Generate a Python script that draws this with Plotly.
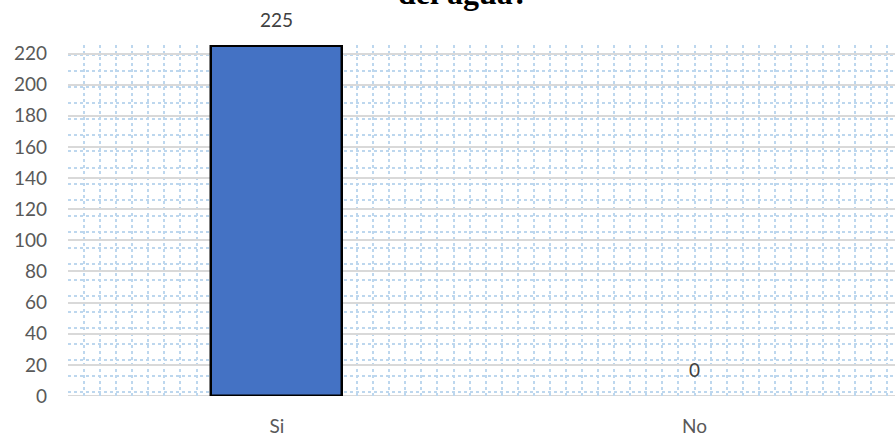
import plotly.graph_objects as go

categories = ["Si", "No"]
values = [225, 0]
y_ticks = list(range(0, 221, 20))
title_text = "del agua?"

x_pos = list(range(len(categories)))
label_font = dict(family="Lato, Open Sans, sans-serif", size=19, color="#404040")

fig = go.Figure()
fig.add_trace(go.Bar(
    x=x_pos, y=values, width=0.313,
    marker=dict(color="#4472C4",
                line=dict(color="#000000", width=[2.5 if v > 0 else 0 for v in values])),
    cliponaxis=False,
))

annotations = [dict(
    text="<b>" + title_text + "</b>", xref="paper", yref="paper",
    x=(463 - 68) / 827, y=1, xanchor="center", yanchor="bottom", yshift=32,
    showarrow=False,
    font=dict(family="Liberation Serif, Times New Roman, serif", size=32, color="#000000"),
)]
for xp, v in zip(x_pos, values):
    annotations.append(dict(
        text=str(v), x=xp, y=v, xref="x", yref="y",
        xanchor="center", yanchor="bottom", yshift=13,
        showarrow=False, font=label_font,
    ))

fig.update_layout(
    width=895, height=440,
    margin=dict(l=68, r=0, t=45, b=44),
    paper_bgcolor="white", plot_bgcolor="white",
    showlegend=False,
    bargap=0,
    annotations=annotations,
)
fig.update_xaxes(
    range=[-0.5, 1.48],
    tickvals=x_pos, ticktext=categories,
    showgrid=False, zeroline=False, showline=False, ticks="",
    tickfont=dict(family="Lato, Open Sans, sans-serif", size=19, color="#595959"),
    ticklabelstandoff=17,
    minor=dict(showgrid=True, dtick=1/26, tick0=-0.5, gridcolor="#BDD7EE", griddash="dot", gridwidth=1.5),
)
fig.update_yaxes(
    range=[0, 225.5],
    tickvals=y_ticks,
    showgrid=True, gridcolor="#D9D9D9", gridwidth=2,
    zeroline=False, showline=False, ticks="",
    tickfont=dict(family="Lato, Open Sans, sans-serif", size=19, color="#595959"),
    ticklabelstandoff=20,
    minor=dict(showgrid=True, dtick=10.3, tick0=2.6, gridcolor="#BDD7EE", griddash="dot", gridwidth=1.5),
)
fig.add_shape(type="line", xref="paper", yref="y", x0=0, x1=1, y0=0, y1=0,
              line=dict(color="#D9D9D9", width=2), layer="below")

fig.write_html("out.html")
